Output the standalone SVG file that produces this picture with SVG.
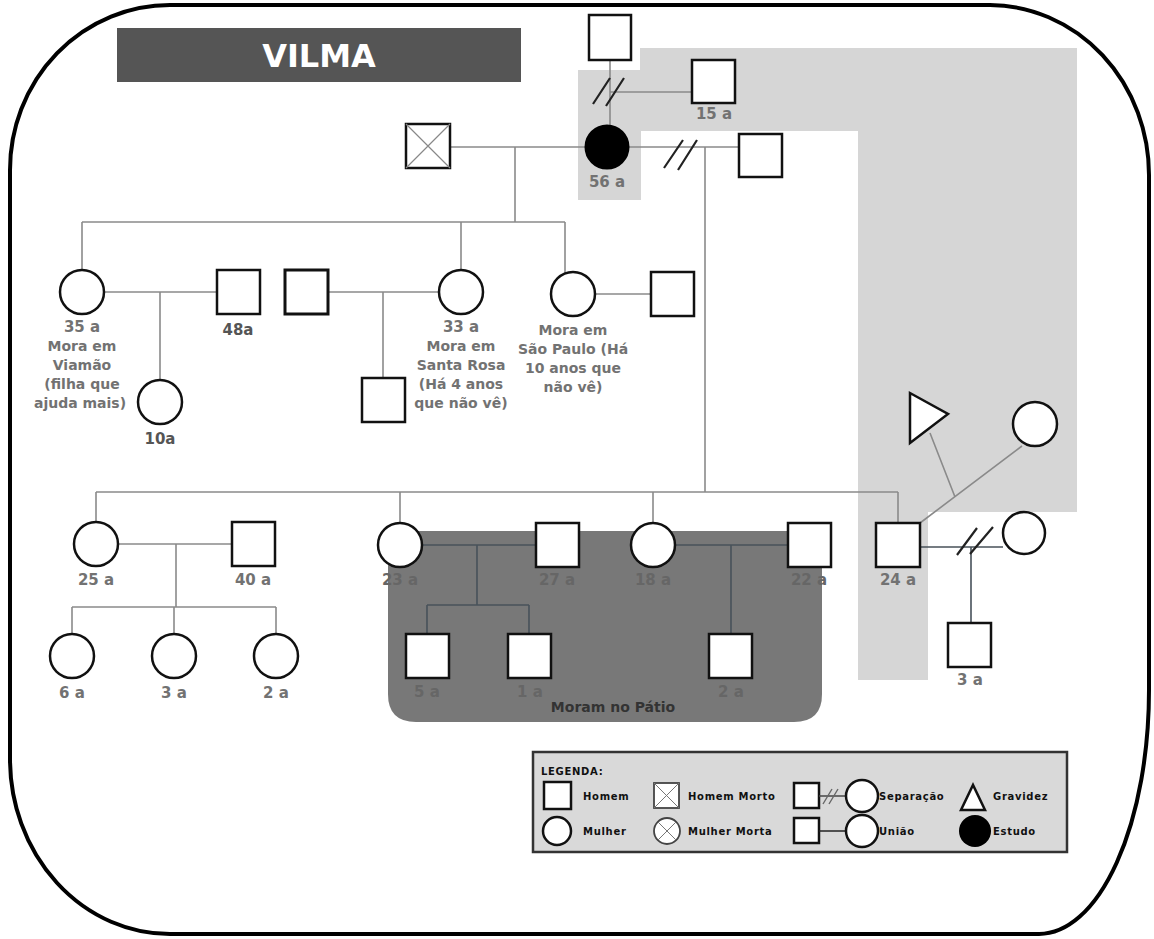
<svg xmlns="http://www.w3.org/2000/svg" width="1154" height="939" viewBox="0 0 1154 939">
<style>
.sq{fill:#fff;stroke:#111;stroke-width:2.5}
.ci{fill:#fff;stroke:#111;stroke-width:2.5}
.ln{fill:none;stroke:#8a8a8a;stroke-width:1.6}
.ld{fill:none;stroke:#48525a;stroke-width:1.6}
.sl{fill:none;stroke:#222;stroke-width:2.2}
.t{font-family:"DejaVu Sans",Verdana,sans-serif;font-weight:bold;font-size:14px;fill:#727272;text-anchor:middle}
.ag{font-size:15px}
.td{fill:#555;font-size:15px}
.tk{fill:#666;font-size:15px}
.lg{font-family:"DejaVu Sans",Verdana,sans-serif;font-weight:bold;font-size:10px;fill:#111;letter-spacing:0.7px}
</style>
<rect width="1154" height="939" fill="#fff"/>
<polygon id="shade-light" points="578,70 640,70 640,48 1077,48 1077,512 928,512 928,680 858,680 858,131 641,131 641,200 578,200" fill="#d6d6d6"/>
<path id="shade-dark" d="M388 531 H822 V694 Q822 722 794 722 H416 Q388 722 388 694 Z" fill="#787878"/>
<path id="frame" d="M170 5 H990 A160 170 0 0 1 1149 175 V690 A110 244 0 0 1 1039 934 H170 A160 175 0 0 1 10 759 V170 A160 165 0 0 1 170 5 Z" fill="none" stroke="#000" stroke-width="4"/>
<g id="title"><rect x="117" y="28" width="404" height="54" fill="#555"/><text x="319" y="67" font-family="DejaVu Sans,Verdana,sans-serif" font-weight="bold" font-size="32" fill="#fff" text-anchor="middle">VILMA</text></g>
<g id="connectors">
<path class="ln" d="M610 60 V126 M610 92 H692 M450 147 H586 M515 147 V222 M82 222 H565 M82 222 V270 M461 222 V270 M565 222 V273"/>
<path class="ln" d="M104 292 H217 M160 292 V380 M328 292 H439 M383 292 V378 M595 294 H651"/>
<path class="ln" d="M628 147 H738 M705 147 V492 M96 492 H898 M96 492 V522 M400 492 V523 M653 492 V523 M898 492 V523"/>
<path class="ln" d="M118 544 H232 M176 544 V607 M72 607 H276 M72 607 V634 M174 607 V634 M276 607 V634"/>
<path class="ld" d="M422 545 H536 M477 545 V605 M427 605 H529 M427 605 V634 M529 605 V634 M675 545 H788 M731 545 V634"/>
<path class="ld" d="M920 547 H1003 M971 547 V623"/>
<path class="ln" d="M920 523 L1022 446 M955 497 L930 433"/>
<path class="sl" d="M593 104 L610 78 M606 106 L624 78 M664 168 L683 140 M678 170 L697 140 M957 555 L977 528 M970 554 L993 527"/>
</g>
<g id="n-top"><rect class="sq" x="589" y="15" width="42" height="45"/></g>
<g id="n-15a"><rect class="sq" x="692" y="60" width="43" height="43"/><text class="t ag" x="714" y="119">15 a</text></g>
<g id="n-56a"><circle cx="607" cy="147" r="21.5" fill="#000" stroke="#000" stroke-width="2"/><text class="t ag" x="607" y="187">56 a</text></g>
<g id="n-dead"><rect class="sq" x="406" y="124" width="44" height="44"/><path d="M406 124 L450 168 M450 124 L406 168" stroke="#888" stroke-width="1.2"/></g>
<g id="n-ex2"><rect class="sq" x="739" y="134" width="43" height="43"/></g>
<g id="n-35a"><circle class="ci" cx="82" cy="292" r="22"/><text class="t ag" x="82" y="332">35 a</text><text class="t" x="82" y="351">Mora em</text><text class="t" x="82" y="370">Viamão</text><text class="t" x="82" y="389">(filha que</text><text class="t" x="80" y="408">ajuda mais)</text></g>
<g id="n-48a"><rect class="sq" x="217" y="270" width="43" height="44"/><text class="t td" x="238" y="335">48a</text></g>
<g id="n-10a"><circle class="ci" cx="160" cy="402" r="22"/><text class="t td" x="160" y="444">10a</text></g>
<g id="n-sr-partner"><rect class="sq" x="285" y="270" width="43" height="44" style="stroke-width:3"/></g>
<g id="n-33a"><circle class="ci" cx="461" cy="292" r="22"/><text class="t ag" x="461" y="332">33 a</text><text class="t" x="461" y="351">Mora em</text><text class="t" x="461" y="370">Santa Rosa</text><text class="t" x="461" y="389">(Há 4 anos</text><text class="t" x="461" y="408">que não vê)</text></g>
<g id="n-sr-child"><rect class="sq" x="362" y="378" width="43" height="44"/></g>
<g id="n-sp"><circle class="ci" cx="573" cy="294" r="22"/><text class="t" x="573" y="335">Mora em</text><text class="t" x="573" y="354">São Paulo (Há</text><text class="t" x="573" y="373">10 anos que</text><text class="t" x="573" y="392">não vê)</text></g>
<g id="n-sp-partner"><rect class="sq" x="651" y="272" width="43" height="44"/></g>
<g id="n-25a"><circle class="ci" cx="96" cy="544" r="22"/><text class="t ag" x="96" y="585">25 a</text></g>
<g id="n-40a"><rect class="sq" x="232" y="522" width="43" height="44"/><text class="t ag" x="253" y="585">40 a</text></g>
<g id="n-6a"><circle class="ci" cx="72" cy="656" r="22"/><text class="t ag" x="72" y="698">6 a</text></g>
<g id="n-3a-f"><circle class="ci" cx="174" cy="656" r="22"/><text class="t ag" x="174" y="698">3 a</text></g>
<g id="n-2a-f"><circle class="ci" cx="276" cy="656" r="22"/><text class="t ag" x="276" y="698">2 a</text></g>
<g id="n-23a"><circle class="ci" cx="400" cy="545" r="22"/><text class="t tk" x="400" y="585">23 a</text></g>
<g id="n-27a"><rect class="sq" x="536" y="523" width="43" height="44"/><text class="t tk" x="557" y="585">27 a</text></g>
<g id="n-5a"><rect class="sq" x="406" y="634" width="43" height="44"/><text class="t tk" x="427" y="697">5 a</text></g>
<g id="n-1a"><rect class="sq" x="508" y="634" width="43" height="44"/><text class="t tk" x="530" y="697">1 a</text></g>
<g id="n-18a"><circle class="ci" cx="653" cy="545" r="22"/><text class="t tk" x="653" y="585">18 a</text></g>
<g id="n-22a"><rect class="sq" x="788" y="523" width="43" height="44"/><text class="t tk" x="809" y="585">22 a</text></g>
<g id="n-2a-m"><rect class="sq" x="709" y="634" width="43" height="44"/><text class="t tk" x="731" y="697">2 a</text></g>
<text x="613" y="712" font-family="DejaVu Sans,Verdana,sans-serif" font-weight="bold" font-size="14" fill="#333" text-anchor="middle">Moram no Pátio</text>
<g id="n-24a"><rect class="sq" x="876" y="523" width="44" height="44"/><text class="t ag" x="898" y="585">24 a</text></g>
<g id="n-24a-ex"><circle class="ci" cx="1024" cy="533" r="21"/></g>
<g id="n-3a-m"><rect class="sq" x="948" y="623" width="43" height="44"/><text class="t ag" x="970" y="685">3 a</text></g>
<g id="n-preg"><polygon class="sq" points="910,393 910,443 948,414"/></g>
<g id="n-24a-partner"><circle class="ci" cx="1035" cy="424" r="22"/></g>
<g id="legend">
<rect x="533" y="752" width="534" height="100" fill="#d9d9d9" stroke="#333" stroke-width="2.5"/>
<text class="lg" x="541" y="775">LEGENDA:</text>
<rect class="sq" x="544" y="782" width="27" height="27"/>
<text class="lg" x="583" y="800">Homem</text>
<rect x="654" y="783" width="25" height="25" fill="#fff" stroke="#444" stroke-width="1.8"/>
<path d="M654 783 L679 808 M679 783 L654 808" stroke="#777" stroke-width="1"/>
<text class="lg" x="688" y="800">Homem Morto</text>
<rect class="sq" x="794" y="783" width="25" height="25"/>
<path d="M819 796 H846" stroke="#444" stroke-width="1.5"/>
<path d="M823 804 L832 789 M829 804 L838 789" stroke="#666" stroke-width="1.4"/>
<circle class="ci" cx="862" cy="796" r="16"/>
<text class="lg" x="879" y="800">Separação</text>
<polygon points="961,810 985,810 973,785" fill="#fff" stroke="#111" stroke-width="2.5"/>
<text class="lg" x="993" y="800">Gravidez</text>
<circle class="ci" cx="557" cy="831" r="14"/>
<text class="lg" x="583" y="835">Mulher</text>
<circle cx="667" cy="831" r="13" fill="#fff" stroke="#444" stroke-width="1.8"/>
<path d="M658 822 L676 840 M676 822 L658 840" stroke="#777" stroke-width="1"/>
<text class="lg" x="688" y="835">Mulher Morta</text>
<rect class="sq" x="794" y="818" width="25" height="25"/>
<path d="M819 831 H846" stroke="#222" stroke-width="1.5"/>
<circle class="ci" cx="862" cy="831" r="16"/>
<text class="lg" x="879" y="835">União</text>
<circle cx="975" cy="831" r="16" fill="#000"/>
<text class="lg" x="993" y="835">Estudo</text>
</g>
</svg>
